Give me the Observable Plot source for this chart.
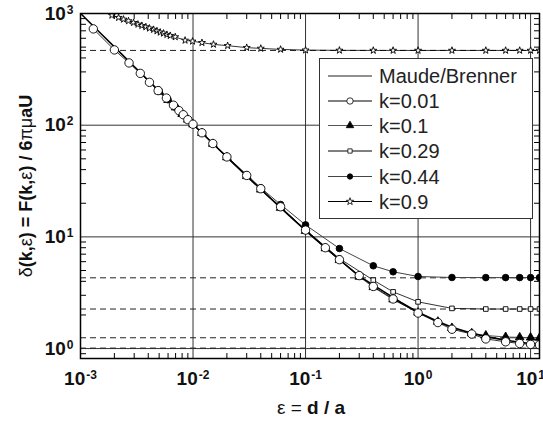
<!DOCTYPE html>
<html><head><meta charset="utf-8">
<script src="https://cdn.jsdelivr.net/npm/d3@7"></script>
<script src="https://cdn.jsdelivr.net/npm/@observablehq/plot@0.6"></script>
<style>body{margin:0;background:#fff}</style>
</head><body><div id="chart"></div>
<script>
// ---- data ----
const xMajor = [0.001, 0.01, 0.1, 1, 10];
const yMajor = [1, 10, 100, 1000];
const xMinor = [0.002,0.003,0.004,0.005,0.006,0.007,0.008,0.009,
                0.02,0.03,0.04,0.05,0.06,0.07,0.08,0.09,
                0.2,0.3,0.4,0.5,0.6,0.7,0.8,0.9,
                2,3,4,5,6,7,8,9];
const yMinor = [0.9,2,3,4,5,6,7,8,9,20,30,40,50,60,70,80,90,200,300,400,500,600,700,800,900];
const asymptotes = [1.01, 1.25, 2.26, 4.3, 467];

const epsMB = [0.001,0.0015,0.002,0.003,0.005,0.007,0.01,0.015,0.02,0.03,0.05,0.07,0.1,0.15,0.2,0.3,0.5,0.7,1,1.5,2,3,4,6,8,10,12];
const deltaMB = [1002,669,502,335,202,145,102,68.5,51.8,35.0,21.6,15.8,11.4,8.0,6.25,4.45,3.22,2.6,2.12,1.75,1.55,1.37,1.28,1.19,1.14,1.11,1.09];

const eps001 = [0.0013,0.002,0.0027,0.0034,0.0041,0.0049,0.0058,0.0067,0.0075,0.0082,0.009,0.01,0.012,0.015,0.02,0.03,0.04,0.06,0.1,0.15,0.2,0.3,0.4,0.6,1,1.5,2,3,4,6,8,10,12];
const delta001 = [728,472,361,291,242,204,175,151,135,124,112,102,85.5,68.5,52,35.5,27,18.6,11.5,8.0,6.25,4.5,3.6,2.78,2.08,1.71,1.49,1.35,1.22,1.15,1.11,1.09,1.08];

const eps01 = [0.005,0.006,0.007,0.008,0.009,0.01,0.012,0.015,0.02,0.03,0.04,0.06,0.1,0.15,0.2,0.3,0.4,0.6,1,1.5,2,3,4,6,8,10,12];
const delta01 = [201,168,144,126,112,101.5,85,68,51.5,35,26.5,18.2,11.3,7.9,6.2,4.4,3.55,2.75,2.1,1.74,1.53,1.37,1.31,1.27,1.26,1.255,1.25];

const eps029 = [0.005,0.006,0.007,0.008,0.009,0.01,0.012,0.015,0.02,0.03,0.04,0.06,0.1,0.2,0.4,0.6,1,2,4,6,8,10,12];
const delta029 = [201,168,144,126,112,101.5,85,68,51.5,35,26.5,18.3,11.6,6.4,4.1,3.22,2.62,2.29,2.26,2.26,2.26,2.26,2.26];

const eps044 = [0.005,0.006,0.007,0.008,0.009,0.01,0.012,0.015,0.02,0.03,0.04,0.06,0.1,0.2,0.4,0.6,1,2,4,6,8,10,12];
const delta044 = [202,169,145,127,113,102.5,86,69,52.5,36,27.5,19.5,12.8,7.87,5.51,4.87,4.42,4.33,4.32,4.32,4.32,4.32,4.32];

const eps09 = [0.0019,0.00218,0.00241,0.00267,0.00296,0.00324,0.00351,0.00381,0.0041,0.00446,0.00478,0.00511,0.00547,0.00586,0.00627,0.00695,0.0085,0.0099,0.012,0.0152,0.0203,0.03,0.04,0.06,0.1,0.2,0.4,0.6,1,2,4,6,8,10,12];
const delta09 = [964,919,887,858,828,800,779,758,738,718,698,679,665,647,634,617,575,564,548,529,515,495,487,477,470,468,467,467,467,467,467,467,467,467,467];

const seriesNames = ["Maude/Brenner","k=0.01","k=0.1","k=0.29","k=0.44","k=0.9"];

// ---- build tables ----
const toRows = (xs, ys, name) => xs.map((e, i) => ({eps: e, delta: ys[i], series: name}));
const mb = toRows(epsMB, deltaMB, seriesNames[0]);
const s001 = toRows(eps001, delta001, seriesNames[1]);
const s01 = toRows(eps01, delta01, seriesNames[2]);
const s029 = toRows(eps029, delta029, seriesNames[3]);
const s044 = toRows(eps044, delta044, seriesNames[4]);
const s09 = toRows(eps09, delta09, seriesNames[5]);

const FONT = "'Liberation Sans', Arial, Helvetica, sans-serif";
const expFmt = d => "10^" + Math.round(Math.log10(d));

const styles = {
  "k=0.01": {symbol: "circle", fill: "white", stroke: "#000", r: 4.2, line: "#000", lw: 0.8, lr: 3.2},
  "k=0.1":  {symbol: "triangle", fill: "#000", stroke: "#000", r: 3.2, line: "#555", lw: 1, lr: 2.8},
  "k=0.29": {symbol: "square", fill: "white", stroke: "#000", r: 2.6, line: "#000", lw: 0.8, lr: 2.4},
  "k=0.44": {symbol: "circle", fill: "#000", stroke: "#000", r: 3.3, line: "#444", lw: 1, lr: 2.7},
  "k=0.9":  {symbol: "star", fill: "white", stroke: "#000", r: 2.2, line: "#000", lw: 0.8, lr: 2.3}
};
const seriesData = {"k=0.01": s001, "k=0.1": s01, "k=0.29": s029, "k=0.44": s044, "k=0.9": s09};

const seriesMarks = [];
for (const name of ["k=0.9","k=0.44","k=0.29","k=0.1","k=0.01"]) {
  const s = styles[name], d = seriesData[name];
  seriesMarks.push(Plot.line(d, {x: "eps", y: "delta", stroke: s.line, strokeWidth: s.lw, clip: true}));
}
seriesMarks.push(Plot.line(mb, {x: "eps", y: "delta", stroke: "#000", strokeWidth: 1.6, clip: true}));
for (const name of ["k=0.9","k=0.44","k=0.29","k=0.1","k=0.01"]) {
  const s = styles[name], d = seriesData[name];
  seriesMarks.push(Plot.dot(d, {x: "eps", y: "delta", symbol: () => s.symbol, r: s.r, fill: s.fill, stroke: s.stroke, strokeWidth: 0.9, clip: true}));
}

const chart = Plot.plot({
  width: 543, height: 427,
  marginLeft: 80, marginRight: 4, marginTop: 13, marginBottom: 69,
  x: {type: "log", domain: [0.001, 12], label: null},
  y: {type: "log", domain: [0.815, 1000], label: null},
  symbol: {type: "identity"},
  style: {fontFamily: FONT, background: "white", color: "#000"},
  marks: [
    Plot.ruleX(xMajor, {stroke: "#333", strokeWidth: 1}),
    Plot.ruleY(yMajor, {stroke: "#333", strokeWidth: 1}),
    Plot.ruleY(asymptotes, {stroke: "#222", strokeWidth: 1, strokeDasharray: "6,4"}),
    ...seriesMarks,
    // inward minor ticks on four sides
    Plot.axisX(xMinor, {anchor: "bottom", label: null, tickSize: 5, dy: -5, tickFormat: () => "", stroke: "#000"}),
    Plot.axisX(xMinor, {anchor: "top", label: null, tickSize: 5, dy: 5, tickFormat: () => "", stroke: "#000"}),
    Plot.axisY(yMinor, {anchor: "left", label: null, tickSize: 6, dx: 6, tickFormat: () => "", stroke: "#000"}),
    Plot.axisY(yMinor, {anchor: "right", label: null, tickSize: 6, dx: -6, tickFormat: () => "", stroke: "#000"}),
    // tick labels
    Plot.axisX(xMajor, {anchor: "bottom", label: null, tickSize: 0, tickPadding: 13, tickFormat: expFmt, fontSize: 19, fontWeight: "bold", fill: "#111"}),
    Plot.axisY(yMajor, {anchor: "left", label: null, tickSize: 0, tickPadding: 7, tickFormat: expFmt, fontSize: 19, fontWeight: "bold", fill: "#111"}),
    Plot.frame({stroke: "#000", strokeWidth: 1.5})
  ]
});

document.getElementById("chart").append(chart);

// superscript exponents in tick labels
chart.querySelectorAll('g[aria-label="x-axis tick label"] text, g[aria-label="y-axis tick label"] text').forEach(t => {
  const s = t.textContent;
  if (!s.startsWith("10^")) return;
  const ex = s.slice(3);
  t.textContent = "";
  const a = document.createElementNS("http://www.w3.org/2000/svg", "tspan");
  a.textContent = "10";
  const b = document.createElementNS("http://www.w3.org/2000/svg", "tspan");
  b.textContent = ex;
  b.setAttribute("dy", "-0.5em");
  b.setAttribute("font-size", "12");
  b.setAttribute("dx", "1");
  t.append(a, b);
});

const svg = d3.select(chart);

// axis titles
const yl = svg.append("text")
  .attr("transform", "translate(32,186) rotate(-90)")
  .attr("text-anchor", "middle")
  .attr("font-size", 18).attr("font-family", FONT).attr("fill", "#111");
[["δ", "normal"], ["(k,", "bold"], ["ε", "normal"], [") = F(k,", "bold"], ["ε", "normal"], [") / 6", "bold"], ["πμ", "normal"], ["aU", "bold"]]
  .forEach(([s, w]) => yl.append("tspan").attr("font-weight", w).text(s));

const xl = svg.append("text")
  .attr("x", 311).attr("y", 414)
  .attr("text-anchor", "middle")
  .attr("font-size", 19).attr("font-family", FONT).attr("fill", "#111");
[["ε = ", "normal"], ["d / a", "bold"]].forEach(([s, w]) => xl.append("tspan").attr("font-weight", w).text(s));

// legend
const lg = svg.append("g").attr("font-family", FONT).attr("text-anchor", "start");
lg.append("rect").attr("x", 319.5).attr("y", 58.5).attr("width", 213).attr("height", 160)
  .attr("fill", "white").attr("stroke", "#333").attr("stroke-width", 1);
const rowY = [76, 101, 125.5, 151, 176.5, 201.5];
const symMap = {circle: d3.symbolCircle, triangle: d3.symbolTriangle, square: d3.symbolSquare, star: d3.symbolStar};
seriesNames.forEach((name, i) => {
  const y = rowY[i];
  const s = styles[name];
  lg.append("line").attr("x1", 328).attr("x2", 372).attr("y1", y).attr("y2", y)
    .attr("stroke", s ? s.line : "#222").attr("stroke-width", s ? 1 : 1.2);
  if (s) {
    const area = Math.PI * s.lr * s.lr;
    lg.append("path").attr("d", d3.symbol(symMap[s.symbol], area)())
      .attr("transform", `translate(350,${y})`)
      .attr("fill", s.fill).attr("stroke", "#000").attr("stroke-width", 0.8);
  }
  lg.append("text").attr("x", 379).attr("y", y + 7).attr("text-anchor", "start")
    .attr("font-size", 20).attr("fill", "#222").text(name);
});
</script></body></html>
